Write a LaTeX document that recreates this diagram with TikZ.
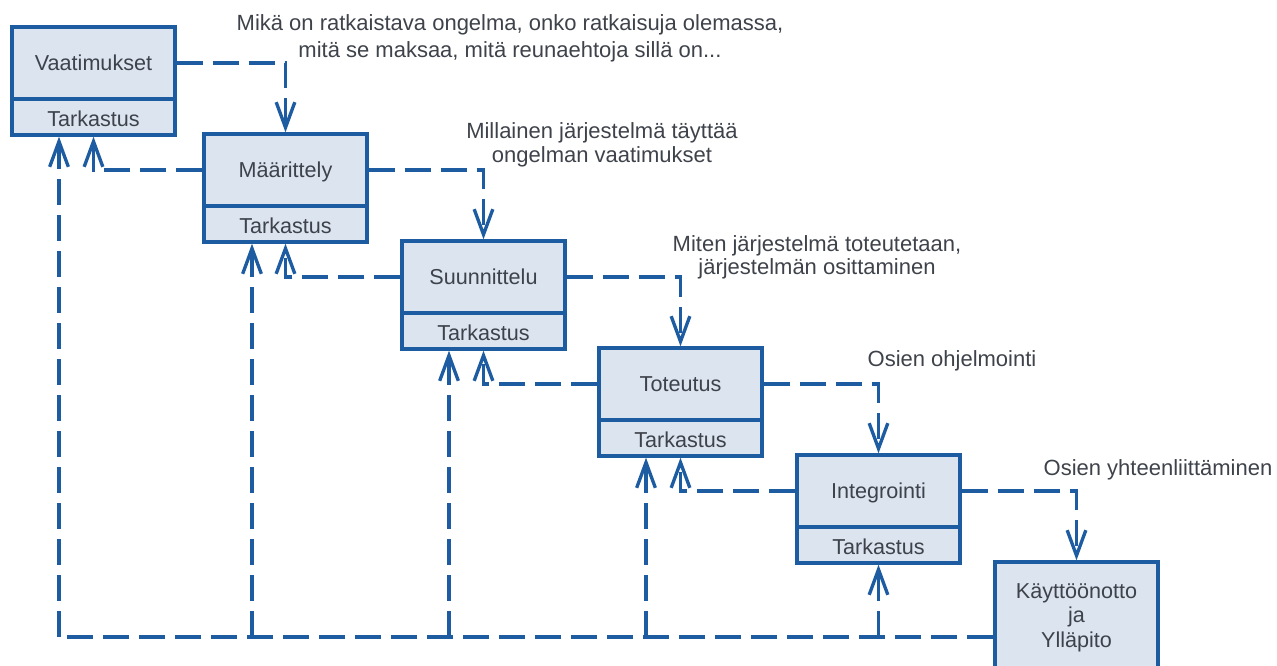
\documentclass[tikz,border=0pt]{standalone}
\usepackage{fontspec}
\setmainfont{Liberation Sans}
\usetikzlibrary{arrows.meta,calc}
\definecolor{edge}{RGB}{30,92,162}
\definecolor{boxfill}{RGB}{220,228,240}
\definecolor{txt}{RGB}{62,66,74}
\begin{document}
\begin{tikzpicture}[x=0.75pt,y=-0.75pt,
  upper/.style={draw=edge,fill=boxfill,line width=2.5pt,minimum width=122.25pt,
    minimum height=54pt,inner sep=0pt,text=txt,text height=11.6pt,text depth=0pt,
    font=\fontsize{16.2}{19}\selectfont},
  lower/.style={upper,minimum height=27pt,text height=14.8pt},
  finalbox/.style={draw=edge,fill=boxfill,line width=2.5pt,minimum width=122.25pt,
    minimum height=80.25pt,inner sep=0pt,text=txt,align=center,text depth=0pt,
    font=\fontsize{16.2}{18.6}\selectfont},
  note/.style={text=txt,align=center,inner sep=0pt},
  link/.style={draw=edge,line width=2.5pt,dash pattern=on 19.5pt off 7.5pt,
    -{Straight Barb[length=19pt,width=14pt]}},
  trunk/.style={draw=edge,line width=2.5pt,dash pattern=on 19.5pt off 7.5pt}]
\useasboundingbox (0,0) rectangle (1277,666);
\clip (0,0) rectangle (1277,666);

% boxes
\node[lower] (l1) at (93.5,117) {Tarkastus};
\node[upper] (u1) at (93.5,63) {Vaatimukset};
\node[lower] (l2) at (285.5,224) {Tarkastus};
\node[upper] (u2) at (285.5,170) {Määrittely};
\node[lower] (l3) at (483.5,331) {Tarkastus};
\node[upper] (u3) at (483.5,277) {Suunnittelu};
\node[lower] (l4) at (680.5,438) {Tarkastus};
\node[upper] (u4) at (680.5,384) {Toteutus};
\node[lower] (l5) at (878.5,545) {Tarkastus};
\node[upper] (u5) at (878.5,491) {Integrointi};
\node[finalbox] (b6) at (1076.5,615.5) {Käyttöönotto\\ja\\Ylläpito};

% notes
\node[note,anchor=north,font=\fontsize{16.5}{20.25}\selectfont] (n1) at (510,14)
  {Mikä on ratkaistava ongelma, onko ratkaisuja olemassa,\\mitä se maksaa, mitä reunaehtoja sillä on...};
\node[note,anchor=north,font=\fontsize{16.5}{18}\selectfont] (n2) at (602,122)
  {Millainen järjestelmä täyttää\\ongelman vaatimukset};
\node[note,anchor=north,font=\fontsize{16.5}{17.5}\selectfont] (n3) at (817,235)
  {Miten järjestelmä toteutetaan,\\järjestelmän osittaminen};
\node[note,anchor=base,font=\fontsize{16.5}{19}\selectfont] (n4) at (952,367) {Osien ohjelmointi};
\node[note,anchor=base,font=\fontsize{16.5}{19}\selectfont] (n5) at (1158,475) {Osien yhteenliittäminen};

% forward links
\draw[link] (u1.east) -| (u2.north);
\draw[link] (u2.east) -| (u3.north);
\draw[link] (u3.east) -| (u4.north);
\draw[link] (u4.east) -| (u5.north);
\draw[link] (u5.east) -| (b6.north);

% feedback links
\draw[link] (u2.west) -| (l1.south);
\draw[link] (u3.west) -| (l2.south);
\draw[link] (u4.west) -| (l3.south);
\draw[link] (u5.west) -| (l4.south);

% bottom trunk
\coordinate (c0) at (59,637);
\coordinate (c1) at (252,637);
\coordinate (c2) at (449,637);
\coordinate (c3) at (646,637);
\coordinate (c4) at (878.5,637);
\draw[trunk] (b6.west |- c0) -- (c0);
\draw[link] (c0) -- (c0 |- l1.south);
\draw[link] (c1) -- (c1 |- l2.south);
\draw[link] (c2) -- (c2 |- l3.south);
\draw[link] (c3) -- (c3 |- l4.south);
\draw[link] (c4) -- (l5.south);
\end{tikzpicture}
\end{document}
